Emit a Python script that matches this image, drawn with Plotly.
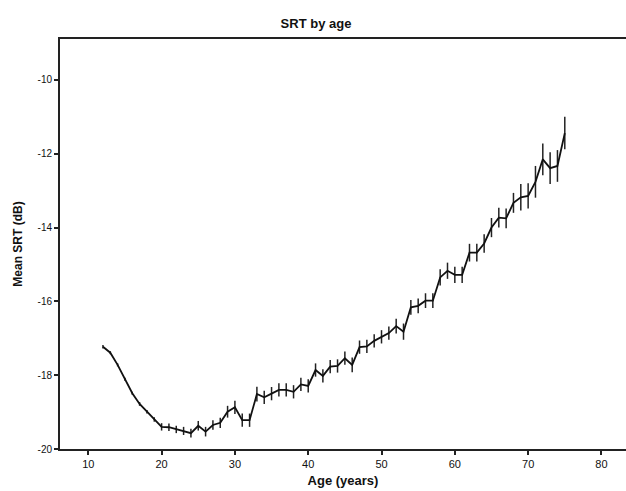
import plotly.graph_objects as go

ages = list(range(12, 76))
mean_srt = [
    -17.23, -17.39, -17.72, -18.11, -18.49, -18.78, -18.99, -19.20, -19.40,  # 12-20
    -19.41, -19.47, -19.51, -19.57, -19.37, -19.53, -19.35, -19.29, -18.99, -18.87,  # 21-30
    -19.22, -19.22, -18.51, -18.60, -18.50, -18.40, -18.40, -18.45, -18.25, -18.29,  # 31-40
    -17.86, -18.02, -17.77, -17.75, -17.54, -17.72, -17.24, -17.22, -17.07, -16.96,  # 41-50
    -16.86, -16.67, -16.82, -16.16, -16.12, -15.98, -15.98, -15.35, -15.17, -15.28,  # 51-60
    -15.28, -14.68, -14.68, -14.43, -14.00, -13.73, -13.75, -13.33, -13.18, -13.14,  # 61-70
    -12.76, -12.15, -12.39, -12.33, -11.44,  # 71-75
]
err = [
    0.05, 0.04, 0.04, 0.04, 0.04, 0.05, 0.05, 0.06, 0.10,  # 12-20
    0.10, 0.10, 0.11, 0.12, 0.13, 0.13, 0.13, 0.14, 0.16, 0.18,  # 21-30
    0.18, 0.18, 0.20, 0.18, 0.18, 0.18, 0.18, 0.18, 0.18, 0.18,  # 31-40
    0.18, 0.18, 0.18, 0.18, 0.18, 0.20, 0.18, 0.18, 0.18, 0.18,  # 41-50
    0.18, 0.20, 0.22, 0.20, 0.20, 0.20, 0.20, 0.22, 0.22, 0.22,  # 51-60
    0.22, 0.24, 0.24, 0.25, 0.26, 0.27, 0.27, 0.27, 0.36, 0.34,  # 61-70
    0.43, 0.43, 0.43, 0.43, 0.44,  # 71-75
]
x_ticks = [10, 20, 30, 40, 50, 60, 70, 80]
y_ticks = [-20, -18, -16, -14, -12, -10]

FONT = "Liberation Sans, Arial, sans-serif"

fig = go.Figure()
fig.add_trace(go.Scatter(
    x=ages, y=mean_srt, mode="lines",
    line=dict(color="#111111", width=1.8),
    error_y=dict(type="data", array=err, visible=True, color="#222222",
                 thickness=1.5, width=0),
    showlegend=False,
))

fig.update_layout(
    width=626, height=491,
    margin=dict(l=60, r=0, t=39, b=42),
    paper_bgcolor="white", plot_bgcolor="white",
    title=dict(text="<b>SRT by age</b>", x=316 / 626, xanchor="center",
               y=1 - 23 / 491, yanchor="middle",
               font=dict(family=FONT, size=13, color="#111111")),
    font=dict(family=FONT, color="#111111"),
)
fig.update_xaxes(
    range=[6.14, 83.35], tickvals=x_ticks, ticktext=[str(v) for v in x_ticks],
    showgrid=False, zeroline=False, showline=True, linecolor="#222222",
    linewidth=2, mirror=True, ticks="outside", ticklen=4, tickwidth=1.5,
    tickcolor="#222222", tickfont=dict(family=FONT, size=11, color="#111111"),
    title=dict(text="<b>Age (years)</b>", standoff=7,
               font=dict(family=FONT, size=13, color="#111111")),
)
fig.update_yaxes(
    range=[-20, -8.89], tickvals=y_ticks, ticktext=[str(v) for v in y_ticks],
    showgrid=False, zeroline=False, showline=True, linecolor="#222222",
    linewidth=2, mirror=False, ticks="outside", ticklen=4, tickwidth=1.5,
    tickcolor="#222222", tickfont=dict(family=FONT, size=10, color="#111111"),
    title=dict(text="<b>Mean SRT (dB)</b>", standoff=12,
               font=dict(family=FONT, size=12, color="#111111")),
)

fig.write_html("out.html")
